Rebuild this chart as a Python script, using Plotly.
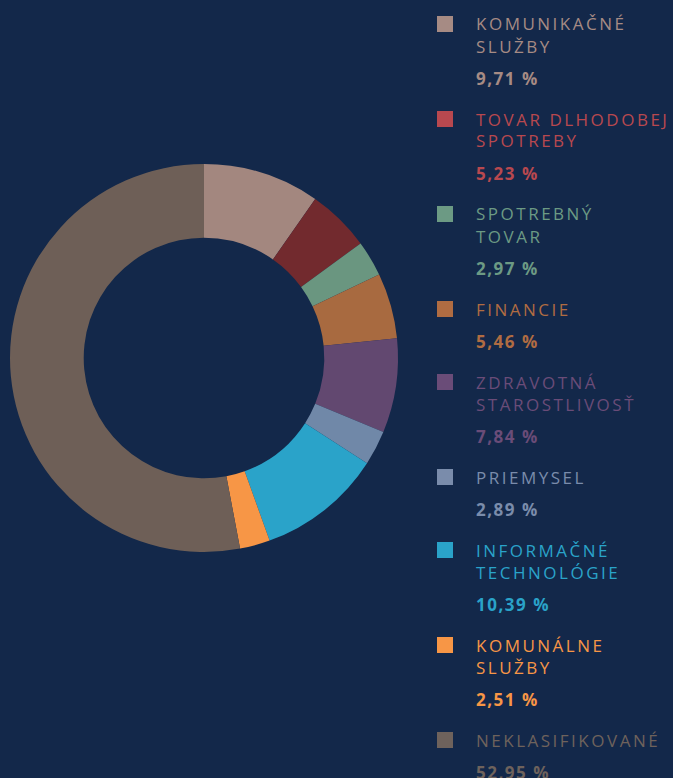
import plotly.graph_objects as go

# ---- data ----
categories = [
    "KOMUNIKAČNÉ SLUŽBY",
    "TOVAR DLHODOBEJ SPOTREBY",
    "SPOTREBNÝ TOVAR",
    "FINANCIE",
    "ZDRAVOTNÁ STAROSTLIVOSŤ",
    "PRIEMYSEL",
    "INFORMAČNÉ TECHNOLÓGIE",
    "KOMUNÁLNE SLUŽBY",
    "NEKLASIFIKOVANÉ",
]
legend_lines = [
    ["KOMUNIKAČNÉ", "SLUŽBY"],
    ["TOVAR DLHODOBEJ", "SPOTREBY"],
    ["SPOTREBNÝ", "TOVAR"],
    ["FINANCIE"],
    ["ZDRAVOTNÁ", "STAROSTLIVOSŤ"],
    ["PRIEMYSEL"],
    ["INFORMAČNÉ", "TECHNOLÓGIE"],
    ["KOMUNÁLNE", "SLUŽBY"],
    ["NEKLASIFIKOVANÉ"],
]
values = [9.71, 5.23, 2.97, 5.46, 7.84, 2.89, 10.39, 2.51, 52.95]
value_labels = ["9,71 %", "5,23 %", "2,97 %", "5,46 %", "7,84 %", "2,89 %", "10,39 %", "2,51 %", "52,95 %"]

pie_colors = ["#a3877f", "#722a2e", "#6a9680", "#a86a40", "#624870",
              "#7088a8", "#2aa3c9", "#f79646", "#6e5f57"]
legend_colors = ["#a68b84", "#b8484f", "#6c9a84", "#b06c42", "#6a4c78",
                 "#7a8cab", "#2aa3c9", "#f79646", "#6e625c"]

BG = "#13284a"
W, H = 673, 778

fig = go.Figure()
fig.add_trace(go.Pie(
    labels=categories,
    values=values,
    hole=0.62,
    sort=False,
    direction="clockwise",
    rotation=0,
    marker=dict(colors=pie_colors, line=dict(width=0)),
    textinfo="none",
    hoverinfo="label+value",
    showlegend=False,
    domain=dict(x=[10 / W, 398 / W], y=[1 - 552 / H, 1 - 164 / H]),
))

# ---- custom legend ----
FONT = "Open Sans"
LINE_STEP = 22
PCT_STEP = 32.5
ITEM_GAP = 40.5
TX = 474
y = 24.0
shapes = []
annotations = []
for lines, pct, col in zip(legend_lines, value_labels, legend_colors):
    shapes.append(dict(
        type="rect", xref="paper", yref="paper",
        x0=437 / W, x1=453 / W, y0=1 - (y + 8) / H, y1=1 - (y - 8) / H,
        fillcolor=col, line=dict(width=0),
    ))
    ly = y
    for i, line in enumerate(lines):
        if i > 0:
            ly += LINE_STEP
        annotations.append(dict(
            text=line, x=TX / W, y=1 - ly / H, xref="paper", yref="paper",
            xanchor="left", yanchor="middle", align="left", showarrow=False,
            font=dict(family=FONT, size=17, color=col),
        ))
    py = ly + PCT_STEP
    annotations.append(dict(
        text="<b>" + pct + "</b>", x=TX / W, y=1 - py / H, xref="paper", yref="paper",
        xanchor="left", yanchor="middle", align="left", showarrow=False,
        font=dict(family=FONT, size=17, color=col),
    ))
    y = py + ITEM_GAP

fig.update_layout(
    width=W, height=H,
    margin=dict(l=0, r=0, t=0, b=0),
    paper_bgcolor=BG, plot_bgcolor=BG,
    shapes=shapes, annotations=annotations,
    showlegend=False,
)

post = """
document.body.style.margin = '0';
document.body.style.background = '%s';
document.querySelectorAll('.annotation-text').forEach(function(t){
  t.style.letterSpacing = t.textContent.indexOf('%%') >= 0 ? '1.5px' : '2.5px';
});
""" % BG
fig.write_html("out.html", post_script=post, config={"displayModeBar": False})
